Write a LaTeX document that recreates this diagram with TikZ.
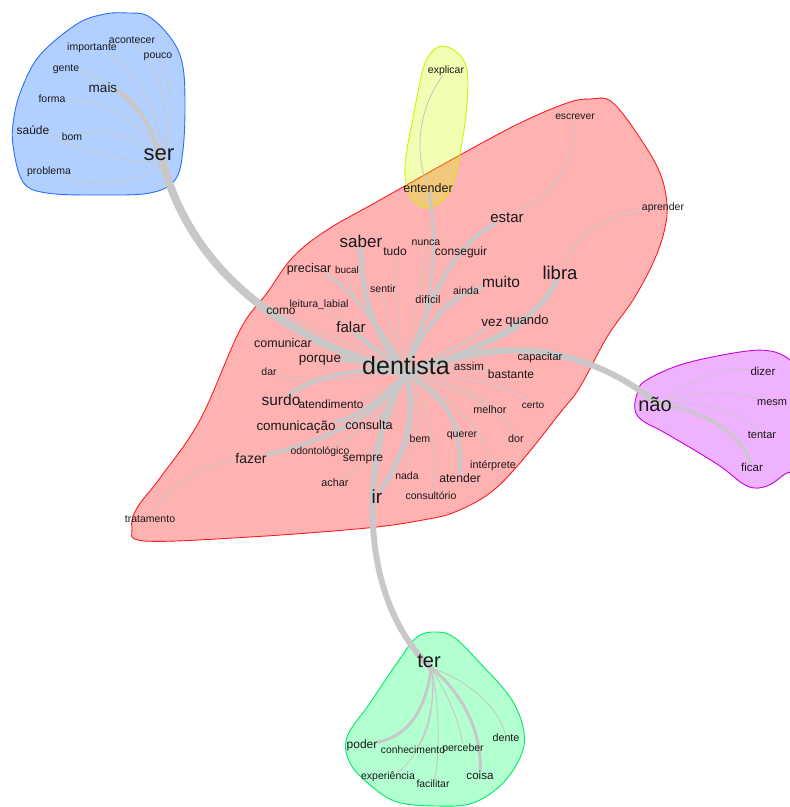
\documentclass[tikz,border=0pt]{standalone}
\usepackage{fontspec}
\setmainfont{Liberation Sans}
\pgfdeclarelayer{hulls}
\pgfdeclarelayer{edges}
\pgfsetlayers{hulls,edges,main}
\definecolor{edgegray}{RGB}{200,200,200}
\definecolor{txt}{RGB}{25,25,25}
\definecolor{hred}{RGB}{255,0,0}
\definecolor{hredline}{RGB}{255,30,30}
\definecolor{hblue}{RGB}{0,100,255}
\definecolor{hblueline}{RGB}{40,110,255}
\definecolor{hyel}{RGB}{215,255,0}
\definecolor{hyelline}{RGB}{215,240,0}
\definecolor{hpur}{RGB}{204,0,255}
\definecolor{hpurline}{RGB}{200,0,230}
\definecolor{hgre}{RGB}{0,255,100}
\definecolor{hgreline}{RGB}{0,235,100}
\tikzset{
  w/.style={font=\fontsize{#1}{#1}\selectfont, inner sep=0pt, text=txt},
  e/.style={draw=edgegray, line width=#1, line cap=round},
  e/.default=0.9,
  hull/.style={fill=#1, fill opacity=0.3, draw=#1line, line width=0.9},
}
\begin{document}
\begin{tikzpicture}[x=1pt,y=-1pt]
\useasboundingbox (0,0) rectangle (790,807);
% ---------- nodes ----------
% blue
\node[w=22] (ser) at (159,155) {ser};
\node[w=13.5] (mais) at (103,88) {mais};
\node[w=10.5] (acontecer) at (132,40) {acontecer};
\node[w=10.5] (importante) at (92,48) {importante};
\node[w=10.5] (pouco) at (158,57) {pouco};
\node[w=10.5] (gente) at (66,69) {gente};
\node[w=10.5] (forma) at (52,99) {forma};
\node[w=12] (saude) at (33,130) {saúde};
\node[w=10.5] (bom) at (72,137) {bom};
\node[w=10.5] (problema) at (49,172) {problema};
% yellow
\node[w=10.5] (explicar) at (446,71) {explicar};
\node[w=12.5] (entender) at (428,188) {entender};
% red
\node[w=25] (dentista) at (406,366) {dentista};
\node[w=17] (saber) at (361,241) {saber};
\node[w=12] (tudo) at (395,251) {tudo};
\node[w=10.5] (nunca) at (426,243) {nunca};
\node[w=12] (conseguir) at (461,252) {conseguir};
\node[w=15] (estar) at (507,218) {estar};
\node[w=12.5] (precisar) at (309,269) {precisar};
\node[w=10] (bucal) at (347,270) {bucal};
\node[w=15.5] (muito) at (501,282) {muito};
\node[w=18.5] (libra) at (560,273) {libra};
\node[w=10.5] (sentir) at (383,289) {sentir};
\node[w=10.5] (ainda) at (466,291) {ainda};
\node[w=11] (dificil) at (428,299) {difícil};
\node[w=10.5] (leitura) at (319,305) {leitura\_labial};
\node[w=12] (como) at (281,311) {como};
\node[w=15] (falar) at (351,327) {falar};
\node[w=13.5] (vez) at (492,323) {vez};
\node[w=13] (quando) at (527,321) {quando};
\node[w=12.5] (comunicar) at (283,343) {comunicar};
\node[w=13.5] (porque) at (320,360) {porque};
\node[w=10.5] (dar) at (269,372) {dar};
\node[w=15.5] (surdo) at (281,400) {surdo};
\node[w=11.8] (atendimento) at (331,404) {atendimento};
\node[w=13.4] (comunicacao) at (296,427) {comunicação};
\node[w=12.7] (consulta) at (369,425) {consulta};
\node[w=14] (fazer) at (251,458) {fazer};
\node[w=10.4] (odontologico) at (320,452) {odontológico};
\node[w=12] (sempre) at (363,460) {sempre};
\node[w=10.8] (achar) at (335,483) {achar};
\node[w=19] (ir) at (377,497) {ir};
\node[w=10.5] (tratamento) at (150,519) {tratamento};
\node[w=11.5] (assim) at (469,366) {assim};
\node[w=11] (capacitar) at (540,358) {capacitar};
\node[w=12] (bastante) at (511,374) {bastante};
\node[w=10.8] (melhor) at (490,410) {melhor};
\node[w=10] (certo) at (533,405) {certo};
\node[w=10.6] (bem) at (420,439) {bem};
\node[w=10.5] (querer) at (462,436) {querer};
\node[w=10.8] (dor) at (516,439) {dor};
\node[w=10.8] (interprete) at (493,466) {intérprete};
\node[w=10.5] (nada) at (407,476) {nada};
\node[w=12.2] (atender) at (460,478) {atender};
\node[w=10.5] (consultorio) at (431,496) {consultório};
\node[w=10.3] (escrever) at (575,117) {escrever};
\node[w=10.5] (aprender) at (663,208) {aprender};
% purple
\node[w=20] (nao) at (655,404) {não};
\node[w=11.5] (dizer) at (763,371) {dizer};
\node[w=11, anchor=west] (mesm) at (757,403) {mesm};
\node[w=11] (tentar) at (762,435) {tentar};
\node[w=11.5] (ficar) at (752,467) {ficar};
% green
\node[w=20] (ter) at (429,661) {ter};
\node[w=12] (poder) at (362,745) {poder};
\node[w=10.3] (conhecimento) at (413,750) {conhecimento};
\node[w=10.5] (perceber) at (463,749) {perceber};
\node[w=10.7] (dente) at (506,738) {dente};
\node[w=10.5] (experiencia) at (388,777) {experiência};
\node[w=10.4] (facilitar) at (433,784) {facilitar};
\node[w=11.6] (coisa) at (480,775) {coisa};
% hubs
\coordinate (hub) at (405,373);
\coordinate (serhub) at (163,163);
\coordinate (naohub) at (658,404);
\coordinate (terhub) at (431,668);
% ---------- hulls ----------
\begin{pgfonlayer}{hulls}
\fill[white] (0,0) rectangle (790,807);
\draw[hull=hred] plot[smooth cycle, tension=0.6] coordinates {(590,99) (612,102) (640,138) (660,173) (667,205) (664,232) (653,263) (633,300) (607,337) (580,387) (560,413) (520,463) (490,493) (455,512) (423,520) (367,528) (250,537) (145,541) (132,528) (137,508) (160,478) (200,420) (240,330) (267,293) (293,257) (327,230) (380,200) (460,155) (520,123) (567,103)};
\draw[hull=hyel] plot[smooth cycle, tension=0.6] coordinates {(438,47) (452,49) (464,61) (468,82) (465,123) (458,163) (451,188) (439,203) (425,208) (412,198) (405,177) (407,150) (412,123) (417,97) (425,63)};
\draw[hull=hblue] plot[smooth cycle, tension=0.6] coordinates {(127,13) (148,16) (170,37) (182,62) (185,100) (183,150) (175,180) (150,193) (100,195) (47,193) (23,182) (13,145) (14,117) (22,88) (40,55) (77,24) (105,14)};
\draw[hull=hpur] plot[smooth cycle, tension=0.6] coordinates {(635,410) (637,394) (645,381) (683,364) (740,352) (770,351) (790,360) (805,380) (805,460) (785,474) (767,486) (747,486) (717,464) (667,434) (643,421)};
\draw[hull=hgre] plot[smooth cycle, tension=0.6] coordinates {(437,632) (455,638) (480,663) (510,697) (523,727) (522,753) (503,783) (473,803) (437,806) (397,802) (370,785) (350,763) (347,737) (370,703) (397,663) (417,637)};
\end{pgfonlayer}
% ---------- edges ----------
\begin{pgfonlayer}{edges}
% blue cluster
\draw[e=4] (serhub) .. controls (150,120) and (130,95) .. (mais);
\draw[e] (serhub) .. controls (172,100) and (155,60) .. (acontecer);
\draw[e] (serhub) .. controls (178,110) and (168,80) .. (pouco);
\draw[e] (serhub) .. controls (160,100) and (125,60) .. (importante);
\draw[e] (serhub) .. controls (150,110) and (100,75) .. (gente);
\draw[e] (serhub) .. controls (140,110) and (90,100) .. (forma);
\draw[e] (serhub) .. controls (130,165) and (70,145) .. (saude);
\draw[e] (serhub) .. controls (140,135) and (100,128) .. (bom);
\draw[e] (serhub) .. controls (140,185) and (90,188) .. (problema);
% main trunks
\draw[e=8] (serhub) .. controls (185,245) and (250,330) .. (hub);
\draw[e=6] (hub) .. controls (500,335) and (585,345) .. (naohub);
\draw[e=6] (hub) .. controls (365,440) and (350,590) .. (terhub);
% red cluster
\draw[e=3] (hub) .. controls (430,320) and (440,250) .. (entender);
\draw[e] (entender) .. controls (415,150) and (418,110) .. (explicar);
\draw[e=5] (hub) .. controls (375,340) and (360,290) .. (saber);
\draw[e=4] (hub) .. controls (425,310) and (450,245) .. (estar);
\draw[e] (estar) .. controls (560,190) and (575,160) .. (escrever);
\draw[e=4] (hub) .. controls (425,320) and (455,295) .. (muito);
\draw[e] (hub) .. controls (425,325) and (445,300) .. (ainda);
\draw[e=5] (hub) .. controls (480,350) and (540,320) .. (libra);
\draw[e] (libra) .. controls (575,240) and (600,215) .. (aprender);
\draw[e=5] (hub) .. controls (420,420) and (400,460) .. (ir);
\draw[e=4] (hub) .. controls (380,350) and (360,340) .. (falar);
\draw[e=3] (hub) .. controls (380,320) and (340,280) .. (precisar);
\draw[e=5] (hub) .. controls (370,360) and (345,360) .. (porque);
\draw[e=4] (hub) .. controls (350,365) and (310,380) .. (surdo);
\draw[e=4] (hub) .. controls (385,400) and (350,420) .. (comunicacao);
\draw[e=4] (hub) .. controls (380,420) and (310,445) .. (fazer);
\draw[e] (fazer) .. controls (200,465) and (165,490) .. (tratamento);
\draw[e=3] (hub) .. controls (395,400) and (385,415) .. (consulta);
\draw[e=4] (hub) .. controls (445,395) and (462,420) .. (atender);
\draw[e=3] (hub) .. controls (460,355) and (500,340) .. (quando);
\draw[e=2] (hub) .. controls (450,350) and (480,335) .. (vez);
\draw[e] (hub) .. controls (395,320) and (395,280) .. (tudo);
\draw[e] (hub) .. controls (410,320) and (425,270) .. (nunca);
\draw[e] (hub) .. controls (420,320) and (450,270) .. (conseguir);
\draw[e] (hub) .. controls (390,330) and (385,310) .. (sentir);
\draw[e] (hub) .. controls (380,330) and (350,300) .. (bucal);
\draw[e] (hub) .. controls (415,340) and (425,315) .. (dificil);
\draw[e] (hub) .. controls (370,340) and (340,320) .. (leitura);
\draw[e] (hub) .. controls (360,345) and (300,325) .. (como);
\draw[e] (hub) .. controls (360,360) and (320,345) .. (comunicar);
\draw[e] (hub) .. controls (360,378) and (300,385) .. (dar);
\draw[e] (hub) .. controls (390,390) and (360,400) .. (atendimento);
\draw[e] (hub) .. controls (390,410) and (350,440) .. (odontologico);
\draw[e] (hub) .. controls (400,410) and (380,440) .. (sempre);
\draw[e] (sempre) .. controls (355,470) and (345,478) .. (achar);
\draw[e] (hub) .. controls (420,410) and (405,450) .. (nada);
\draw[e] (hub) .. controls (415,400) and (420,420) .. (bem);
\draw[e] (hub) .. controls (430,410) and (440,460) .. (consultorio);
\draw[e] (hub) .. controls (430,395) and (455,415) .. (querer);
\draw[e] (hub) .. controls (440,390) and (480,420) .. (interprete);
\draw[e] (hub) .. controls (440,385) and (470,395) .. (melhor);
\draw[e] (hub) .. controls (450,380) and (500,400) .. (dor);
\draw[e] (hub) .. controls (460,375) and (510,385) .. (certo);
\draw[e] (hub) .. controls (460,360) and (510,350) .. (capacitar);
\draw[e] (hub) .. controls (450,368) and (485,370) .. (bastante);
\draw[e] (hub) .. controls (430,368) and (450,366) .. (assim);
% purple cluster
\draw[e] (naohub) .. controls (690,380) and (720,366) .. (dizer);
\draw[e] (naohub) .. controls (700,388) and (740,392) .. (mesm);
\draw[e] (naohub) .. controls (700,400) and (740,410) .. (tentar);
\draw[e=3] (naohub) .. controls (700,410) and (740,430) .. (ficar);
% green cluster
\draw[e=3] (terhub) .. controls (425,720) and (400,738) .. (poder);
\draw[e] (terhub) .. controls (435,700) and (430,735) .. (conhecimento);
\draw[e] (terhub) .. controls (440,700) and (420,760) .. (experiencia);
\draw[e] (terhub) .. controls (445,690) and (460,720) .. (perceber);
\draw[e] (terhub) .. controls (440,700) and (440,760) .. (facilitar);
\draw[e=3] (terhub) .. controls (460,690) and (482,730) .. (coisa);
\draw[e] (terhub) .. controls (470,680) and (500,710) .. (dente);
\end{pgfonlayer}
\end{tikzpicture}
\end{document}
